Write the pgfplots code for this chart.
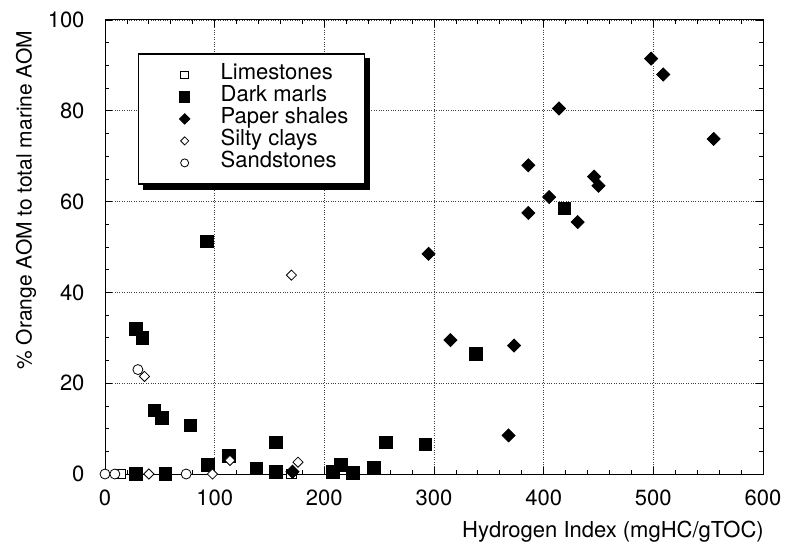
\documentclass[border=0pt]{standalone}
\usepackage{pgfplots}
\pgfplotsset{compat=1.18}
\usepackage{fontspec}
\setmainfont{TeX Gyre Heros}
\usetikzlibrary{calc}
\begin{document}
\begin{tikzpicture}
\begin{axis}[
  scale only axis, width=658pt, height=454pt,
  xmin=0, xmax=600, ymin=0, ymax=100,
  xtick={0,100,...,600}, ytick={0,20,...,100},
  minor x tick num=4, minor y tick num=3,
  tick align=inside, tick pos=both,
  major tick length=7pt, minor tick length=4pt,
  axis line style={line width=1pt},
  every tick/.style={black, line width=0.8pt},
  grid=major, grid style={dotted, line width=0.9pt, black!75},
  /pgf/number format/assume math mode=true,
  tick label style={font=\fontsize{22}{24}\selectfont},
  xticklabel style={yshift=-12pt},
  yticklabel style={xshift=-17pt},
  xlabel={Hydrogen Index (mgHC/gTOC)},
  ylabel={\% Orange AOM to total marine AOM},
  xlabel style={font=\fontsize{22}{24}\selectfont, at={(axis description cs:0.772,-0.126)}, anchor=center},
  ylabel style={font=\fontsize{21}{24}\selectfont, at={(axis description cs:-0.12,0.603)}, anchor=center},
  clip=false,
  legend cell align=left,
  legend style={at={(axis description cs:0.05,0.927)}, anchor=north west,
    name=leg, draw=black, line width=1.5pt, fill=white,
    font=\fontsize{22}{24}\selectfont,
    inner xsep=14pt, inner ysep=10pt, row sep=0pt,
    nodes={text height=15pt, text depth=5pt, inner ysep=1pt}},
  legend image code/.code={\path[draw=none, fill=none] (0pt,-3pt) rectangle (66pt,3pt);
    \draw[#1,/tikz/every mark/.append style={scale=0.8}] plot coordinates {(32pt,0pt)};},
]
% Limestones
\addplot[only marks, mark=square*, mark size=4.8pt, line width=0.8pt, mark options={fill=white, draw=black}]
  coordinates {(14,0) (170,0)};
\addlegendentry{Limestones}
% Dark marls
\addplot[only marks, mark=square*, mark size=6.3pt, line width=0.8pt, mark options={fill=black, draw=black}]
  coordinates {(28,32) (34,30) (45,14) (52,12.3) (78,10.7) (93,51.2) (94,2) (113,4)
  (138,1.2) (156,7) (156,0.5) (28,0) (55,0) (208,0.5) (215,2) (226,0.3) (245,1.3)
  (256,7) (292,6.5) (338,26.5) (419,58.5)};
\addlegendentry{Dark marls}
% Paper shales
\addplot[only marks, mark=square*, mark size=4.6pt, line width=0.8pt, mark options={rotate=45, fill=black, draw=black}]
  coordinates {(171,0.5) (295,48.5) (315,29.5) (368,8.5) (373,28.3) (386,68) (386,57.5)
  (405,61) (414,80.5) (431,55.5) (446,65.5) (450,63.5) (498,91.5) (509,88) (555,73.8)};
\addlegendentry{Paper shales}
% Silty clays
\addplot[only marks, mark=square*, mark size=3.6pt, line width=0.8pt, mark options={rotate=45, fill=white, draw=black}]
  coordinates {(36,21.5) (40,0) (98,0) (114,3) (170,43.8) (176,2.6)};
\addlegendentry{Silty clays}
% Sandstones
\addplot[only marks, mark=*, mark size=5pt, line width=0.8pt, mark options={fill=white, draw=black}]
  coordinates {(0,0) (9,0) (30,23) (74,0)};
\addlegendentry{Sandstones}
\end{axis}
\fill[black] ($(leg.south west)+(5pt,0pt)$) rectangle ($(leg.south east)+(5pt,-5pt)$);
\fill[black] ($(leg.north east)+(0pt,-5pt)$) rectangle ($(leg.south east)+(5pt,0pt)$);
\pgfresetboundingbox
\path[use as bounding box] ($(current axis.south west)+(-105pt,-73pt)$) rectangle ($(current axis.north east)+(25pt,20pt)$);
\end{tikzpicture}
\end{document}
